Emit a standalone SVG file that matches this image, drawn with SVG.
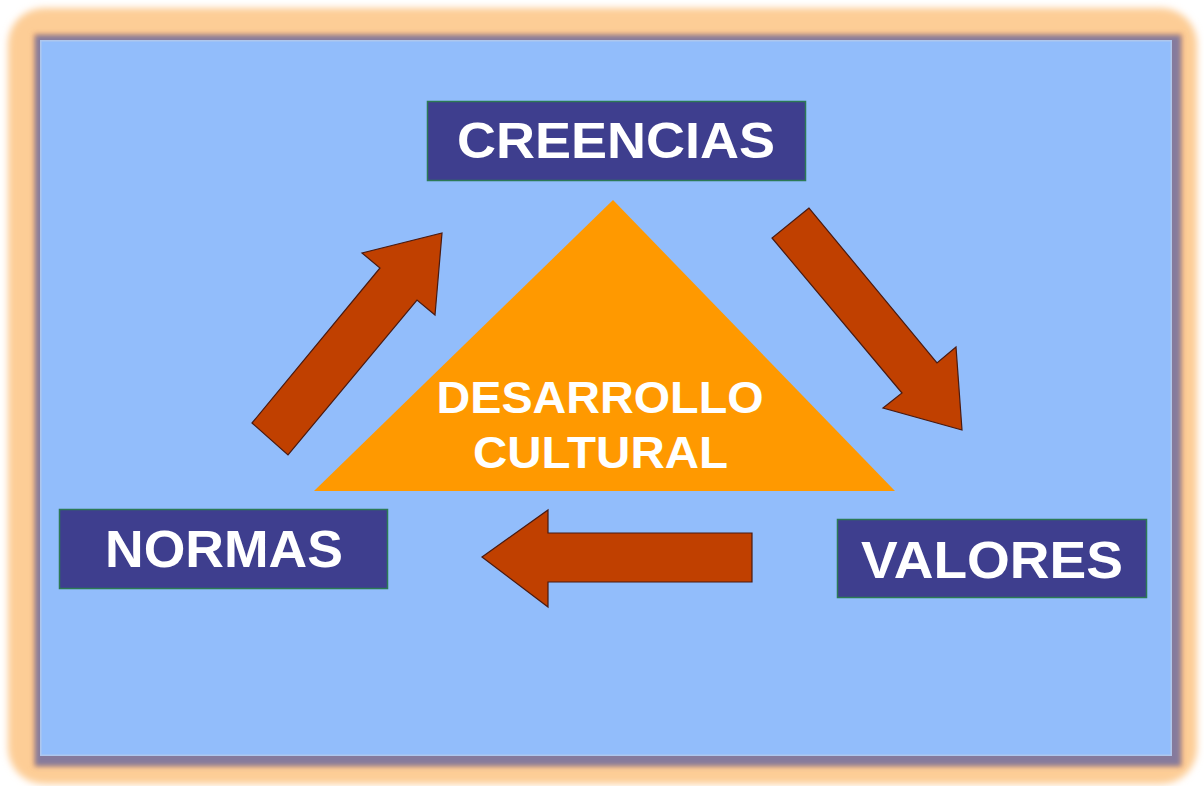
<svg xmlns="http://www.w3.org/2000/svg" width="1204" height="786" viewBox="0 0 1204 786">
<defs>
<filter id="blur6" x="-5%" y="-5%" width="110%" height="110%"><feGaussianBlur stdDeviation="3.5"/></filter>
<filter id="blur2" x="-5%" y="-5%" width="110%" height="110%"><feGaussianBlur stdDeviation="2.5"/></filter>
<style>
.box{fill:#3E3E8E;stroke:#2C7A55;stroke-width:1.5}
.lbl{font-family:"Liberation Sans",Arial,sans-serif;font-weight:bold;fill:#FFFFFF;text-anchor:middle}
.arrow{fill:#C04000;stroke:#4A1A10;stroke-width:1.2;stroke-linejoin:miter}
</style>
</defs>
<rect width="1204" height="786" fill="#FFFFFF"/>
<g id="frame">
<rect x="8" y="8" width="1189" height="776" rx="36" fill="#FDCD96" filter="url(#blur6)"/>
<rect x="33" y="33" width="1150" height="734" fill="#F4B67E" filter="url(#blur2)"/>
<rect x="35" y="35" width="1146" height="731" fill="#857A9C" filter="url(#blur2)"/>
<rect x="40" y="40" width="1132" height="716" fill="#AFC7EC"/>
<rect x="41.5" y="41.5" width="1129" height="713" fill="#92BDFB"/>
</g>
<g id="triangle">
<polygon points="613,200 314,491 895,491" fill="#FF9900"/>
<text class="lbl" x="600" y="413" font-size="44" textLength="327" lengthAdjust="spacingAndGlyphs">DESARROLLO</text>
<text class="lbl" x="600.5" y="468" font-size="44" textLength="255" lengthAdjust="spacingAndGlyphs">CULTURAL</text>
</g>
<g id="creencias">
<rect class="box" x="427.5" y="101.5" width="378" height="79"/>
<text class="lbl" x="616" y="158" font-size="50" textLength="318" lengthAdjust="spacingAndGlyphs">CREENCIAS</text>
</g>
<g id="normas">
<rect class="box" x="59.5" y="509.5" width="328" height="79"/>
<text class="lbl" x="224" y="567" font-size="51" textLength="238" lengthAdjust="spacingAndGlyphs">NORMAS</text>
</g>
<g id="valores">
<rect class="box" x="837.5" y="519.5" width="309" height="78"/>
<text class="lbl" x="992" y="578" font-size="51" textLength="262" lengthAdjust="spacingAndGlyphs">VALORES</text>
</g>
<g id="connectors">
<polygon class="arrow" points="252,423 288,455 417,300 435,315 442,233 362,253 380,268"/>
<polygon class="arrow" points="809,208 772,238 902,393 883,408 962,430 956,347 937,363"/>
<polygon class="arrow" points="482,557 548,510 548,533 752,533 752,582 548,582 548,607"/>
</g>
</svg>
